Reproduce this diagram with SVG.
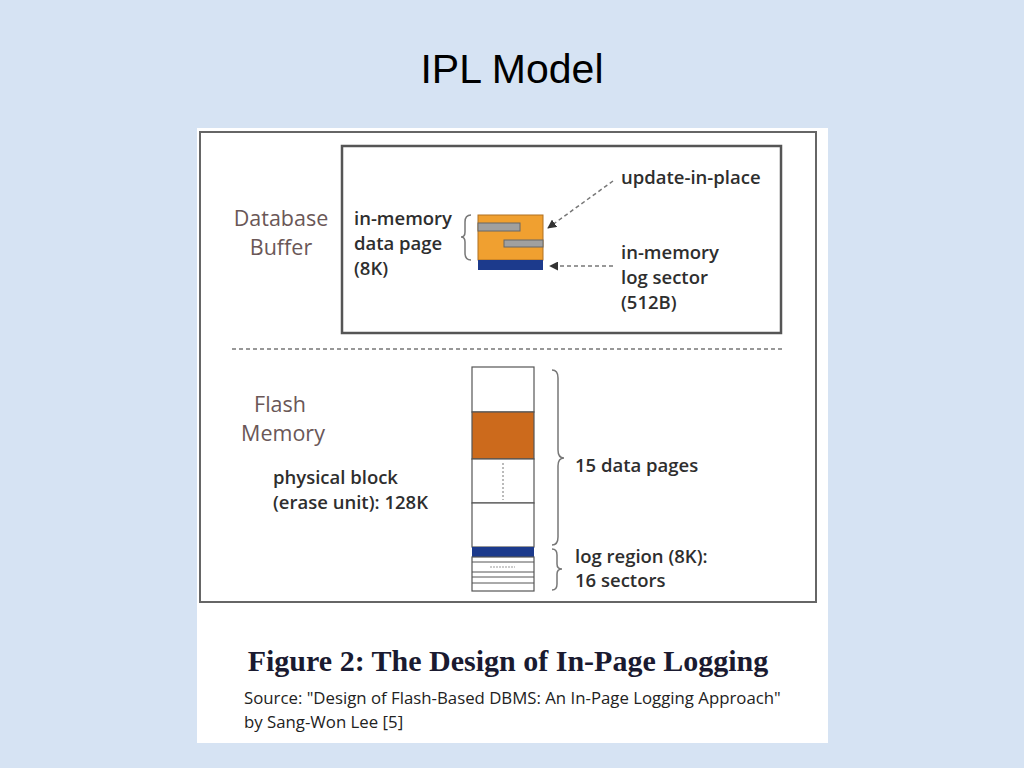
<svg xmlns="http://www.w3.org/2000/svg" width="1024" height="768" viewBox="0 0 1024 768">
<defs>
<style>
.t{font-family:"Open Sans","Liberation Sans",sans-serif;font-weight:600;fill:#2e2e2e;font-size:18.5px}
.lab{font-family:"Open Sans","Liberation Sans",sans-serif;font-weight:500;fill:#6a5757;font-size:21.5px}
.dash{stroke:#777;stroke-width:1.5;stroke-dasharray:4 3;fill:none}
.cell{fill:#fff;stroke:#555;stroke-width:1.2}
.brace{fill:none;stroke:#777;stroke-width:1.5}
</style>
<marker id="ah" viewBox="0 0 10 10" refX="9" refY="5" markerWidth="6" markerHeight="6" orient="auto-start-reverse">
<path d="M0,0 L10,5 L0,10 z" fill="#333"/>
</marker>
</defs>
<rect width="1024" height="768" fill="#d6e3f3"/>
<text x="512" y="83" text-anchor="middle" font-family="Liberation Sans, Arial, sans-serif" font-size="41" fill="#000">IPL Model</text>
<rect x="197" y="128" width="631" height="615" fill="#fff"/>
<rect x="200" y="132" width="616" height="470" fill="none" stroke="#666" stroke-width="2"/>

<g id="buffer">
<rect x="342" y="146" width="439" height="187" fill="none" stroke="#555" stroke-width="2.5"/>
<text class="lab" x="281" y="226" text-anchor="middle">Database</text>
<text class="lab" x="281" y="255" text-anchor="middle">Buffer</text>
</g>
<g id="datapage">
<text class="t" x="354" y="225">in-memory</text>
<text class="t" x="354" y="250">data page</text>
<text class="t" x="354" y="275">(8K)</text>
<path class="brace" d="M471,215 Q465,215 465,222 L465,232 Q465,237 461,237 Q465,237 465,242 L465,253 Q465,260 471,260"/>
<rect x="478" y="215" width="65" height="45" fill="#f0a030" stroke="#b07020" stroke-width="1"/>
<rect x="478" y="223" width="42" height="8" fill="#a0a0a0" stroke="#666" stroke-width="1"/>
<rect x="504" y="240" width="39" height="7" fill="#a0a0a0" stroke="#666" stroke-width="1"/>
<rect x="478" y="260" width="65" height="10" fill="#1c3a8c"/>
</g>
<g id="update">
<text class="t" x="621" y="184">update-in-place</text>
</g>
<g id="logsector">
<text class="t" x="621" y="259">in-memory</text>
<text class="t" x="621" y="284">log sector</text>
<text class="t" x="621" y="309">(512B)</text>
</g>
<g id="connectors">
<line class="dash" x1="613" y1="181" x2="548" y2="228" marker-end="url(#ah)"/>
<line class="dash" x1="613" y1="266" x2="550" y2="266" marker-end="url(#ah)"/>
<line class="dash" x1="232" y1="349" x2="785" y2="349" stroke="#555"/>
</g>
<g id="flash">
<text class="lab" x="280" y="412" text-anchor="middle">Flash</text>
<text class="lab" x="283" y="441" text-anchor="middle">Memory</text>
<text class="t" x="273" y="484">physical block</text>
<text class="t" x="273" y="509">(erase unit): 128K</text>
</g>
<g id="block">
<rect class="cell" x="472" y="367" width="62" height="45"/>
<rect x="472" y="412" width="62" height="47" fill="#cc6a1c" stroke="#555" stroke-width="1.2"/>
<rect class="cell" x="472" y="459" width="62" height="44"/>
<line x1="503" y1="463" x2="503" y2="500" stroke="#777" stroke-width="1" stroke-dasharray="2 2"/>
<rect class="cell" x="472" y="503" width="62" height="44"/>
<rect x="472" y="547" width="62" height="10" fill="#1c3a8c"/>
<rect class="cell" x="472" y="557" width="62" height="34"/>
<line x1="472" y1="562" x2="534" y2="562" stroke="#555" stroke-width="1"/>
<line x1="490" y1="567" x2="515" y2="567" stroke="#999" stroke-width="1" stroke-dasharray="2 1"/>
<line x1="472" y1="572" x2="534" y2="572" stroke="#555" stroke-width="1"/>
<line x1="472" y1="577" x2="534" y2="577" stroke="#555" stroke-width="1"/>
<line x1="472" y1="583" x2="534" y2="583" stroke="#555" stroke-width="1"/>
</g>
<g id="datapages">
<path class="brace" d="M552,370 Q558,370 558,378 L558,450 Q558,458 564,458 Q558,458 558,466 L558,537 Q558,545 552,545"/>
<text class="t" x="575" y="472">15 data pages</text>
</g>
<g id="logregion">
<path class="brace" d="M552,549 Q557,549 557,555 L557,564 Q557,569 562,569 Q557,569 557,574 L557,584 Q557,590 552,590"/>
<text class="t" x="575" y="563">log region (8K):</text>
<text class="t" x="575" y="587">16 sectors</text>
</g>
<g id="caption">
<text x="508" y="671" text-anchor="middle" font-family="Liberation Serif, Times New Roman, serif" font-weight="bold" font-size="30" fill="#1a1a30">Figure 2: The Design of In-Page Logging</text>
<text x="244" y="704" font-family="Open Sans, Liberation Sans, sans-serif" font-size="16.8" fill="#222">Source: "Design of Flash-Based DBMS: An In-Page Logging Approach"</text>
<text x="244" y="728" font-family="Open Sans, Liberation Sans, sans-serif" font-size="16.8" fill="#222">by Sang-Won Lee [5]</text>
</g>
</svg>
